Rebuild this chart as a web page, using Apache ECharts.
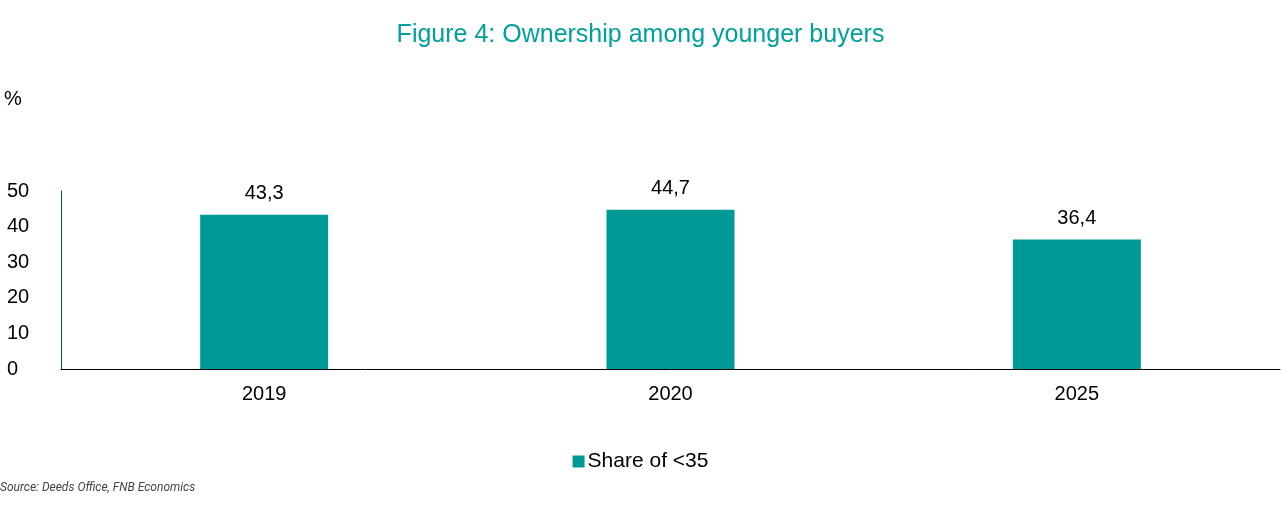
<!DOCTYPE html>
<html>
<head>
<meta charset="utf-8">
<script src="https://cdn.jsdelivr.net/npm/echarts@6/dist/echarts.min.js"></script>
<style>
  html, body { margin: 0; padding: 0; background: #fff; }
  #chart { width: 1281px; height: 521px; }
</style>
</head>
<body>
<div id="chart"></div>
<script>
var years = ['2019', '2020', '2025'];
var shareUnder35 = [43.3, 44.7, 36.4];
var yTicks = [0, 10, 20, 30, 40, 50];

var myChart = echarts.init(document.getElementById('chart'));
var font = '"Liberation Sans", Arial, sans-serif';

var option = {
    animation: false,
    title: {
        text: 'Figure 4: Ownership among younger buyers',
        left: 'center',
        top: 18,
        textStyle: { color: '#00A19C', fontSize: 25, fontWeight: 'normal', fontFamily: font }
    },
    graphic: [
        { type: 'text', left: 4, top: 89, style: { text: '%', fontSize: 20, fontFamily: font, fill: '#000' } },
        { type: 'text', left: 0, top: 482, style: { text: 'Source: Deeds Office, FNB Economics', fontSize: 12, fontStyle: 'italic', fontFamily: 'Roboto, sans-serif', fill: '#444' } }
    ],
    legend: {
        data: ['Share of <35'],
        left: 'center',
        top: 446,
        icon: 'rect',
        itemWidth: 12,
        itemHeight: 12,
        itemGap: 4,
        textStyle: { fontSize: 21, fontFamily: font, color: '#000', padding: [0, 0, 0, -2] }
    },
    grid: { left: 61, right: 1, top: 191, height: 178 },
    xAxis: {
        type: 'category',
        data: years,
        axisTick: { show: false },
        axisLine: { lineStyle: { color: '#000', width: 1 } },
        axisLabel: { fontSize: 20, fontFamily: font, color: '#000', margin: 15 }
    },
    yAxis: {
        type: 'value',
        min: yTicks[0],
        max: yTicks[yTicks.length - 1],
        interval: 10,
        splitLine: { show: false },
        axisTick: { show: false },
        axisLine: { show: true, lineStyle: { color: '#00594F', width: 1 } },
        axisLabel: { fontSize: 20, fontFamily: font, color: '#000', align: 'left', margin: 54 }
    },
    series: [{
        name: 'Share of <35',
        type: 'bar',
        data: shareUnder35,
        barWidth: '31.5%',
        itemStyle: { color: '#009A96' },
        label: {
            show: true,
            position: 'top',
            distance: 11,
            fontSize: 20,
            fontFamily: font,
            color: '#000',
            formatter: function (p) { return String(p.value).replace('.', ','); }
        }
    }]
};

myChart.setOption(option);
</script>
</body>
</html>
